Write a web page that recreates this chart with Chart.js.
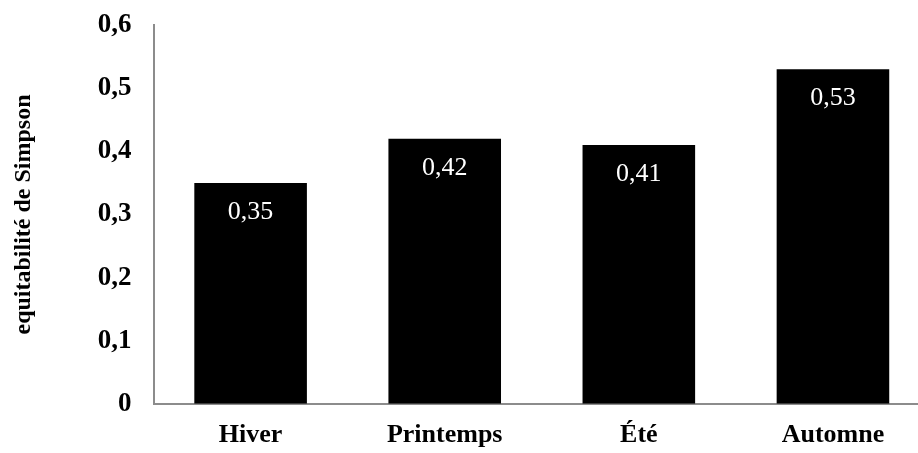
<!DOCTYPE html>
<html>
<head>
<meta charset="utf-8">
<script src="https://cdn.jsdelivr.net/npm/chart.js@4"></script>
<style>
  html, body { margin: 0; padding: 0; background: #fff; overflow: hidden; }
  #wrap { position: relative; top: -13px; width: 930px; height: 466px; }
</style>
</head>
<body>
<div id="wrap"><canvas id="simpsonChart"></canvas></div>
<script>
const seasons = ['Hiver', 'Printemps', 'Été', 'Automne'];
const evenness = [0.35, 0.42, 0.41, 0.53];
const yTicks = [0, 0.1, 0.2, 0.3, 0.4, 0.5, 0.6];

const serif = '"Liberation Serif", "Times New Roman", serif';

// white value labels inside the top of each bar
const barLabels = {
    id: 'barLabels',
    afterDatasetsDraw(chart) {
        const ctx = chart.ctx;
        const meta = chart.getDatasetMeta(0);
        ctx.save();
        ctx.fillStyle = '#fff';
        ctx.font = '26px ' + serif;
        ctx.textAlign = 'center';
        ctx.textBaseline = 'middle';
        meta.data.forEach((bar, i) => {
            const txt = evenness[i].toFixed(2).replace('.', ',');
            ctx.fillText(txt, bar.x, bar.y + 29);
        });
        ctx.restore();
    }
};

const ctx = document.getElementById('simpsonChart').getContext('2d');
new Chart(ctx, {
    type: 'bar',
    data: {
        labels: seasons,
        datasets: [{
            data: evenness,
            backgroundColor: '#000',
            borderWidth: 0,
            categoryPercentage: 1,
            barPercentage: 0.58
        }]
    },
    options: {
        responsive: true,
        maintainAspectRatio: false,
        animation: false,
        layout: { padding: { top: 0, right: 0, bottom: -14, left: 9 } },
        plugins: {
            legend: { display: false },
            tooltip: { enabled: false }
        },
        scales: {
            x: {
                grid: { display: false, drawTicks: false },
                border: { color: '#8c8c8c', width: 2 },
                ticks: {
                    color: '#000',
                    padding: 16,
                    font: { family: serif, size: 26, weight: 'bold' }
                }
            },
            y: {
                min: 0,
                max: 0.6,
                afterBuildTicks(axis) {
                    axis.ticks = yTicks.map(v => ({ value: v }));
                },
                grid: { display: false, drawTicks: false },
                border: { color: '#8c8c8c', width: 2 },
                ticks: {
                    color: '#000',
                    padding: 22,
                    font: { family: serif, size: 27, weight: 'bold' },
                    callback: v => v === 0 ? '0' : v.toFixed(1).replace('.', ',')
                },
                title: {
                    display: true,
                    text: 'equitabilité de Simpson',
                    color: '#000',
                    padding: { top: 0, bottom: 38 },
                    font: { family: serif, size: 24, weight: 'bold' }
                }
            }
        }
    },
    plugins: [barLabels]
});
</script>
</body>
</html>
